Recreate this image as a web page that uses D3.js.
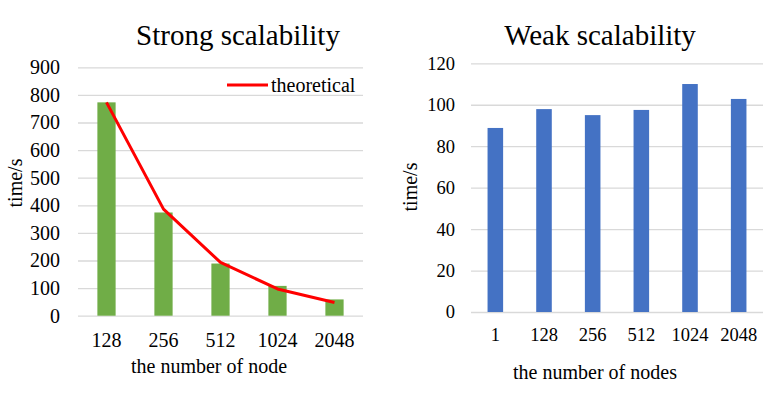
<!DOCTYPE html>
<html>
<head>
<meta charset="utf-8">
<script src="https://cdn.jsdelivr.net/npm/d3@7"></script>
<style>
  body { margin: 0; background: #fff; }
  text { font-family: "Liberation Serif", "Times New Roman", serif; fill: #000; }
</style>
</head>
<body>
<div class="chart"></div>
<script>
// data
var strongNodes = ["128", "256", "512", "1024", "2048"];
var strongTime = [773, 374, 189, 108, 59];
var strongTheory = [773, 386, 193, 97, 48];
var strongTicks = [0, 100, 200, 300, 400, 500, 600, 700, 800, 900];

var weakNodes = ["1", "128", "256", "512", "1024", "2048"];
var weakTime = [88.8, 97.9, 95.0, 97.5, 110.0, 102.8];
var weakTicks = [0, 20, 40, 60, 80, 100, 120];

var serif = '"Liberation Serif", "Times New Roman", serif';
var svgWidth = 779;
var svgHeight = 398;

var svg = d3.select(".chart")
  .append("svg")
  .attr("width", svgWidth)
  .attr("height", svgHeight);

// draws one panel, returns scales
function panel(opt) {
  var x = d3.scaleBand()
    .domain(opt.cats)
    .range([opt.left, opt.right])
    .paddingInner(0.68)
    .paddingOuter(0.34);
  var y = d3.scaleLinear()
    .domain([0, opt.max])
    .range([opt.bottom, opt.top]);

  // gridlines + y labels
  var ya = svg.append("g")
    .attr("transform", "translate(" + opt.left + ",0)")
    .call(d3.axisLeft(y).tickValues(opt.ticks)
      .tickSize(-(opt.right - opt.left)).tickPadding(opt.ypad));
  ya.attr("font-family", serif).attr("font-size", opt.tickFont);
  ya.select(".domain").remove();
  ya.selectAll(".tick line").attr("stroke", "#d9d9d9").attr("stroke-width", 1.3);
  ya.selectAll(".tick text").attr("fill", "#000");

  // x labels
  var xa = svg.append("g")
    .attr("transform", "translate(0," + opt.bottom + ")")
    .call(d3.axisBottom(x).tickSize(0).tickPadding(opt.xpad));
  xa.attr("font-family", serif).attr("font-size", opt.tickFont);
  xa.select(".domain").remove();
  xa.selectAll(".tick text").attr("fill", "#000");

  // bars
  svg.append("g").selectAll("rect")
    .data(opt.values)
    .enter().append("rect")
    .attr("x", function(d, i) { return x(opt.cats[i]); })
    .attr("y", function(d) { return y(d); })
    .attr("width", x.bandwidth())
    .attr("height", function(d) { return opt.bottom - y(d); })
    .attr("fill", opt.color);

  // titles
  svg.append("text")
    .attr("x", opt.titleX).attr("y", opt.titleY)
    .attr("text-anchor", "middle")
    .style("font-size", "29px")
    .text(opt.title);
  svg.append("text")
    .attr("x", opt.xTitleX).attr("y", opt.xTitleY)
    .attr("text-anchor", "middle")
    .style("font-size", "20px")
    .text(opt.xTitle);
  svg.append("text")
    .attr("transform", "translate(" + opt.yTitleX + "," + opt.yTitleY + ") rotate(-90)")
    .attr("text-anchor", "middle")
    .style("font-size", "20px")
    .text("time/s");

  return {x: x, y: y};
}

var s = panel({
  cats: strongNodes, values: strongTime, ticks: strongTicks, max: 900,
  left: 78, right: 363, top: 67.3, bottom: 315.7,
  ypad: 18, xpad: 17.5, tickFont: 20, color: "#70ad47",
  title: "Strong scalability", titleX: 238, titleY: 45,
  xTitle: "the number of node", xTitleX: 209, xTitleY: 373,
  yTitleX: 22, yTitleY: 183
});

// theoretical line
var line = d3.line()
  .x(function(d, i) { return s.x(strongNodes[i]) + s.x.bandwidth() / 2; })
  .y(function(d) { return s.y(d); });
svg.append("path")
  .datum(strongTheory)
  .attr("d", line)
  .attr("fill", "none")
  .attr("stroke", "#ff0000")
  .attr("stroke-width", 3)
  .attr("stroke-linejoin", "round");

// legend
svg.append("line")
  .attr("x1", 227).attr("x2", 268).attr("y1", 85).attr("y2", 85)
  .attr("stroke", "#ff0000").attr("stroke-width", 3);
svg.append("text")
  .attr("x", 271).attr("y", 92)
  .style("font-size", "20px")
  .text("theoretical");

panel({
  cats: weakNodes, values: weakTime, ticks: weakTicks, max: 120,
  left: 471, right: 763, top: 63.3, bottom: 312,
  ypad: 16, xpad: 16, tickFont: 18.5, color: "#4472c4",
  title: "Weak scalability", titleX: 600, titleY: 45,
  xTitle: "the number of nodes", xTitleX: 595, xTitleY: 379,
  yTitleX: 417, yTitleY: 187
});
</script>
</body>
</html>
